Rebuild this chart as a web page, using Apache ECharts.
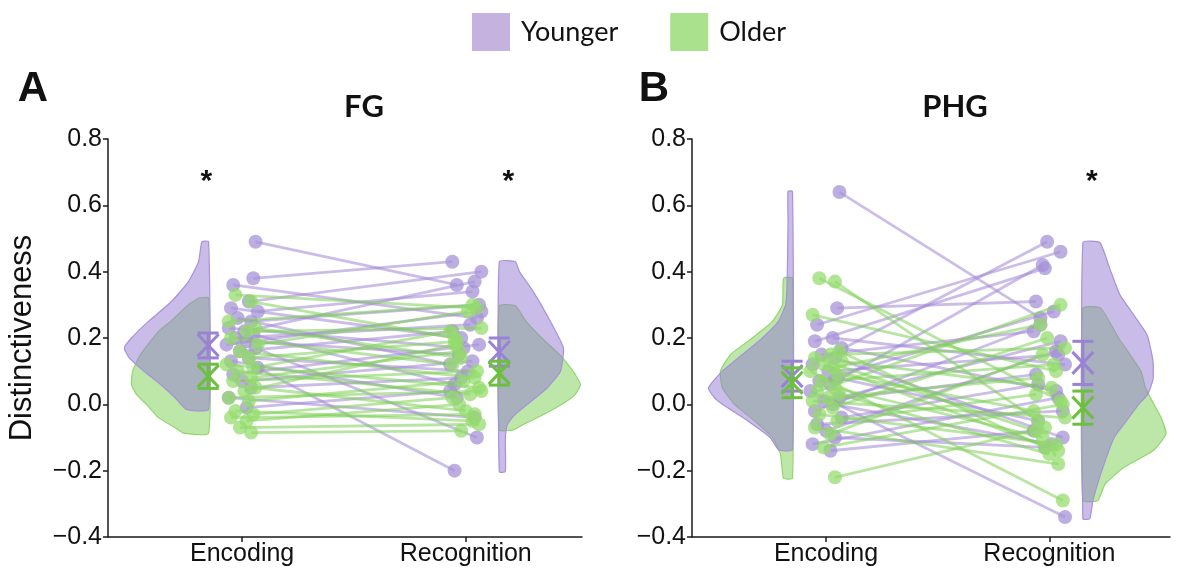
<!DOCTYPE html>
<html>
<head>
<meta charset="utf-8">
<script src="https://cdn.jsdelivr.net/npm/echarts@6/dist/echarts.min.js"></script>
<style>
  html, body { margin: 0; padding: 0; background: #fff; }
  #chart { width: 1178px; height: 575px; }
</style>
</head>
<body>
<div id="chart"></div>
<script>
const conditions = ['Encoding', 'Recognition'];
const groups = ['Younger', 'Older'];

// FG: paired values per participant (encoding -> recognition)
const fgYoungEnc = [0.49, 0.38, 0.36, 0.31, 0.29, 0.28, 0.26, 0.25, 0.23, 0.22, 0.21, 0.20, 0.19, 0.18, 0.17, 0.16, 0.14, 0.13, 0.11, 0.09, 0.07, 0.05, 0.02, -0.01];
const fgYoungRec = [0.36, 0.43, 0.26, 0.40, 0.20, 0.34, 0.12, 0.30, 0.17, 0.37, 0.06, 0.24, 0.15, 0.28, -0.10, 0.22, 0.10, 0.02, -0.20, 0.18, 0.13, 0.08, -0.04, 0.04];
const fgOldEnc = [0.33, 0.31, 0.25, 0.23, 0.22, 0.20, 0.18, 0.16, 0.14, 0.12, 0.11, 0.10, 0.08, 0.07, 0.05, 0.04, 0.02, 0.01, -0.02, -0.03, -0.04, -0.05, -0.07, -0.085];
const fgOldRec = [0.29, 0.20, 0.30, 0.14, 0.23, 0.12, 0.28, 0.08, 0.19, 0.05, 0.22, 0.03, 0.16, 0.10, -0.02, 0.18, 0.04, 0.07, -0.05, 0.02, -0.03, 0.00, -0.06, -0.08];

// PHG
const phgYoungEnc = [0.64, 0.29, 0.24, 0.20, 0.19, 0.17, 0.15, 0.14, 0.12, 0.10, 0.08, 0.07, 0.06, 0.04, 0.02, 0.01, 0.00, -0.02, -0.04, -0.06, -0.08, -0.10, -0.12, -0.14];
const phgYoungRec = [0.26, 0.31, 0.46, 0.12, 0.41, 0.04, 0.22, -0.10, 0.49, 0.15, -0.05, 0.28, 0.42, -0.34, 0.19, 0.09, -0.12, 0.24, 0.06, -0.02, 0.16, -0.13, 0.02, -0.08];
const phgOldEnc = [0.38, 0.37, 0.27, 0.16, 0.15, 0.14, 0.13, 0.12, 0.11, 0.10, 0.09, 0.07, 0.05, 0.04, 0.03, 0.02, 0.01, -0.01, -0.03, -0.05, -0.07, -0.09, -0.13, -0.22];
const phgOldRec = [0.01, -0.05, 0.10, -0.13, 0.17, -0.08, 0.05, -0.14, 0.24, -0.29, -0.02, 0.12, -0.10, 0.30, -0.15, 0.08, -0.04, 0.20, -0.12, 0.03, -0.18, 0.15, 0.00, -0.07];

// horizontal jitter of the dots (category units)
const jitYoungEnc = [0.06, 0.05, -0.04, 0.03, -0.05, 0.07, -0.02, 0.04, -0.06, 0.01, 0.05, -0.03, 0.02, -0.07, 0.06, -0.01, 0.03, -0.05, 0.07, -0.04, 0.00, 0.04, -0.06, 0.02];
const jitYoungRec = [-0.04, -0.06, 0.05, 0.07, -0.02, 0.03, -0.07, 0.06, -0.01, 0.04, -0.05, 0.02, -0.03, 0.07, 0.05, -0.06, 0.01, -0.04, -0.05, 0.06, 0.03, -0.02, 0.04, -0.07];
const jitOldEnc = [-0.03, 0.04, -0.06, 0.06, 0.02, -0.05, 0.07, -0.01, 0.03, -0.07, 0.05, -0.02, 0.04, -0.04, 0.06, 0.01, -0.06, 0.03, -0.03, 0.05, -0.05, 0.02, -0.01, 0.04];
const jitOldRec = [0.05, -0.05, 0.03, -0.02, 0.07, -0.06, 0.01, 0.04, -0.04, 0.06, -0.07, 0.02, -0.03, 0.05, 0.00, -0.05, 0.07, -0.01, 0.03, -0.06, 0.04, -0.03, 0.06, -0.02];

// half-violin density profiles: [value, half width in category units], top to bottom
const fgYoungEncDens = [[0.49, 0.03], [0.43, 0.045], [0.37, 0.09], [0.31, 0.166], [0.25, 0.269], [0.20, 0.345], [0.17, 0.377], [0.14, 0.355], [0.10, 0.29], [0.06, 0.215], [0.02, 0.15], [-0.015, 0.10]];
const fgOldEncDens = [[0.32, 0.045], [0.30, 0.09], [0.25, 0.17], [0.22, 0.224], [0.15, 0.305], [0.10, 0.34], [0.06, 0.345], [0.03, 0.323], [0.00, 0.278], [-0.04, 0.224], [-0.07, 0.15], [-0.087, 0.112]];
const fgYoungRecDens = [[0.43, 0.072], [0.40, 0.09], [0.34, 0.152], [0.25, 0.229], [0.17, 0.287], [0.10, 0.274], [0.05, 0.215], [0.00, 0.126], [-0.03, 0.072], [-0.06, 0.036], [-0.10, 0.027], [-0.203, 0.027]];
const fgOldRecDens = [[0.297, 0.072], [0.25, 0.12], [0.20, 0.19], [0.15, 0.27], [0.10, 0.33], [0.06, 0.363], [0.03, 0.34], [0.00, 0.28], [-0.03, 0.20], [-0.06, 0.11], [-0.077, 0.063]];
const phgYoungEncDens = [[0.642, 0.02], [0.55, 0.02], [0.45, 0.022], [0.35, 0.025], [0.30, 0.031], [0.25, 0.063], [0.20, 0.135], [0.15, 0.224], [0.10, 0.314], [0.05, 0.377], [0.02, 0.35], [0.00, 0.314], [-0.05, 0.2], [-0.10, 0.1], [-0.137, 0.063]];
const phgOldEncDens = [[0.38, 0.04], [0.30, 0.045], [0.25, 0.09], [0.20, 0.18], [0.15, 0.278], [0.10, 0.323], [0.05, 0.314], [0.00, 0.26], [-0.05, 0.17], [-0.10, 0.09], [-0.15, 0.054], [-0.223, 0.04]];
const phgYoungRecDens = [[0.488, 0.076], [0.41, 0.12], [0.33, 0.166], [0.21, 0.287], [0.13, 0.314], [0.075, 0.314], [0.03, 0.29], [0.00, 0.25], [-0.06, 0.184], [-0.10, 0.14], [-0.20, 0.085], [-0.29, 0.045], [-0.345, 0.031]];
const phgOldRecDens = [[0.29, 0.08], [0.20, 0.16], [0.10, 0.26], [0.05, 0.28], [0.01, 0.31], [-0.04, 0.35], [-0.09, 0.372], [-0.14, 0.314], [-0.19, 0.184], [-0.24, 0.1], [-0.29, 0.067]];

// mean and interval [mean, low, high] for encoding, recognition
const fgYoungStats = [[0.178, 0.14, 0.215], [0.158, 0.115, 0.20]];
const fgOldStats = [[0.085, 0.048, 0.121], [0.094, 0.058, 0.13]];
const phgYoungStats = [[0.085, 0.04, 0.13], [0.125, 0.06, 0.19]];
const phgOldStats = [[0.065, 0.02, 0.11], [-0.01, -0.06, 0.04]];

// conditions with a significant age difference
const fgSig = ['Encoding', 'Recognition'];
const phgSig = ['Recognition'];

const colors = {
  Younger: {pt: 'rgba(166,145,214,0.92)', line: 'rgba(160,135,214,0.55)', fill: 'rgba(150,122,212,0.5)', edge: '#a792d9', err: '#9a82d6', key: '#c6b2de'},
  Older: {pt: 'rgba(148,220,108,0.92)', line: 'rgba(125,208,85,0.55)', fill: 'rgba(115,205,75,0.48)', edge: '#93d56c', err: '#6cc03e', key: '#aae18c'}
};

const chart = echarts.init(document.getElementById('chart'));

function violin(grid, x0, side, prof, c) {
  return {
    type: 'custom', xAxisIndex: grid, yAxisIndex: grid, silent: true, z: 1,
    data: [[x0, prof[0][0]]],
    renderItem(params, api) {
      const pts = [api.coord([x0, prof[0][0]])];
      prof.forEach(p => pts.push(api.coord([x0 + side * p[1], p[0]])));
      pts.push(api.coord([x0, prof[prof.length - 1][0]]));
      return {type: 'polygon', shape: {points: pts, smooth: 0.15}, style: {fill: c.fill, stroke: c.edge, lineWidth: 1.2}};
    }
  };
}

function pairs(grid, enc, rec, jE, jR, c, z) {
  return {
    type: 'custom', xAxisIndex: grid, yAxisIndex: grid, silent: true, z: z,
    data: enc.map((v, i) => [1 + jE[i], v, 2 + jR[i], rec[i]]),
    renderItem(params, api) {
      const a = api.coord([api.value(0), api.value(1)]);
      const b = api.coord([api.value(2), api.value(3)]);
      return {type: 'line', shape: {x1: a[0], y1: a[1], x2: b[0], y2: b[1]}, style: {stroke: c.line, lineWidth: 2.8}};
    }
  };
}

function dots(grid, name, enc, rec, jE, jR, c, z) {
  return {
    type: 'scatter', name: name, xAxisIndex: grid, yAxisIndex: grid, silent: true, z: z,
    symbolSize: 14, itemStyle: {color: c.pt},
    data: enc.map((v, i) => [1 + jE[i], v]).concat(rec.map((v, i) => [2 + jR[i], v]))
  };
}

function errbars(grid, stats, c) {
  return {
    type: 'custom', xAxisIndex: grid, yAxisIndex: grid, silent: true, z: 8,
    data: stats.map((s, i) => [i === 0 ? 0.848 : 2.15, s[0], s[1], s[2]]),
    renderItem(params, api) {
      const m = api.coord([api.value(0), api.value(1)]);
      const lo = api.coord([api.value(0), api.value(2)]);
      const hi = api.coord([api.value(0), api.value(3)]);
      const w = 10.5;
      const h = Math.min(11, (lo[1] - hi[1]) / 2);
      const st = {stroke: c.err, lineWidth: 3};
      const ln = (x1, y1, x2, y2) => ({type: 'line', shape: {x1, y1, x2, y2}, style: st});
      return {type: 'group', children: [
        ln(m[0], lo[1], m[0], hi[1]),
        ln(m[0] - w, lo[1], m[0] + w, lo[1]),
        ln(m[0] - w, hi[1], m[0] + w, hi[1]),
        ln(m[0] - w, m[1] - h, m[0] + w, m[1] + h),
        ln(m[0] - w, m[1] + h, m[0] + w, m[1] - h)
      ]};
    }
  };
}

function stars(grid, sig) {
  return {
    type: 'custom', xAxisIndex: grid, yAxisIndex: grid, silent: true, z: 9,
    data: sig.map(s => [conditions.indexOf(s) === 0 ? 0.84 : 2.19, 0.67]),
    renderItem(params, api) {
      const q = api.coord([api.value(0), api.value(1)]);
      return {type: 'text', x: q[0], y: q[1], style: {text: '*', fill: '#111', font: 'bold 30px "Liberation Sans"', align: 'center', verticalAlign: 'middle'}};
    }
  };
}

function panel(grid, d) {
  return [
    violin(grid, 0.85, -1, d.oldEncDens, colors.Older),
    violin(grid, 0.85, -1, d.youngEncDens, colors.Younger),
    violin(grid, 2.15, 1, d.oldRecDens, colors.Older),
    violin(grid, 2.15, 1, d.youngRecDens, colors.Younger),
    pairs(grid, d.youngEnc, d.youngRec, jitYoungEnc, jitYoungRec, colors.Younger, 2),
    dots(grid, 'Younger', d.youngEnc, d.youngRec, jitYoungEnc, jitYoungRec, colors.Younger, 3),
    pairs(grid, d.oldEnc, d.oldRec, jitOldEnc, jitOldRec, colors.Older, 4),
    dots(grid, 'Older', d.oldEnc, d.oldRec, jitOldEnc, jitOldRec, colors.Older, 5),
    errbars(grid, d.youngStats, colors.Younger),
    errbars(grid, d.oldStats, colors.Older),
    stars(grid, d.sig)
  ];
}

const axisColor = '#1a1a1a';
const tickFmt = v => (Math.abs(v) < 1e-9 ? '0.0' : v.toFixed(1).replace('-', '\u2212'));

const option = {
  animation: false,
  legend: {
    left: 467, top: 8, itemWidth: 38, itemHeight: 38, itemGap: 52, icon: 'rect',
    selectedMode: false,
    data: groups.map(g => ({name: g, itemStyle: {color: colors[g].key, opacity: 1}})),
    textStyle: {fontSize: 27, fontFamily: 'Lato', color: '#111', padding: [0, 0, 0, 6]}
  },
  grid: [
    {left: 108, top: 139, width: 474, height: 398},
    {left: 692, top: 139, width: 478, height: 398}
  ],
  xAxis: [2.52, 2.54].map((mx, i) => ({
    gridIndex: i, type: 'value', min: 0.4, max: mx,
    axisLine: {show: true, onZero: false, lineStyle: {color: axisColor, width: 1.5}},
    axisTick: {show: true, customValues: [1, 2], length: 5, lineStyle: {color: axisColor, width: 1.5}},
    axisLabel: {customValues: [1, 2], formatter: v => conditions[Math.round(v) - 1], fontSize: 25, color: '#111', fontFamily: 'Liberation Sans', margin: 5},
    splitLine: {show: false}
  })),
  yAxis: [0, 1].map(i => ({
    gridIndex: i, type: 'value', min: -0.4, max: 0.8, interval: 0.2,
    axisLine: {show: true, onZero: false, lineStyle: {color: axisColor, width: 1.5}},
    axisTick: {show: true, length: 5, lineStyle: {color: axisColor, width: 1.5}},
    axisLabel: {formatter: tickFmt, fontSize: 25, color: '#111', fontFamily: 'Liberation Sans', margin: 6},
    splitLine: {show: false}
  })),
  graphic: [
    {type: 'text', x: 22, y: 338, rotation: Math.PI / 2, style: {text: 'Distinctiveness', font: '31px "Liberation Sans"', fill: '#111', align: 'center', verticalAlign: 'middle'}},
    {type: 'text', x: 33, y: 89, style: {text: 'A', font: 'bold 42px "Liberation Sans"', fill: '#111', align: 'center', verticalAlign: 'middle'}},
    {type: 'text', x: 654, y: 89, style: {text: 'B', font: 'bold 42px "Liberation Sans"', fill: '#111', align: 'center', verticalAlign: 'middle'}},
    {type: 'text', x: 364, y: 107, style: {text: 'FG', font: 'bold 31px Lato', fill: '#111', align: 'center', verticalAlign: 'middle'}},
    {type: 'text', x: 955, y: 107, style: {text: 'PHG', font: 'bold 31px Lato', fill: '#111', align: 'center', verticalAlign: 'middle'}}
  ],
  series: [].concat(
    panel(0, {
      youngEnc: fgYoungEnc, youngRec: fgYoungRec, oldEnc: fgOldEnc, oldRec: fgOldRec,
      youngEncDens: fgYoungEncDens, oldEncDens: fgOldEncDens, youngRecDens: fgYoungRecDens, oldRecDens: fgOldRecDens,
      youngStats: fgYoungStats, oldStats: fgOldStats, sig: fgSig
    }),
    panel(1, {
      youngEnc: phgYoungEnc, youngRec: phgYoungRec, oldEnc: phgOldEnc, oldRec: phgOldRec,
      youngEncDens: phgYoungEncDens, oldEncDens: phgOldEncDens, youngRecDens: phgYoungRecDens, oldRecDens: phgOldRecDens,
      youngStats: phgYoungStats, oldStats: phgOldStats, sig: phgSig
    })
  )
};

chart.setOption(option);
</script>
</body>
</html>
